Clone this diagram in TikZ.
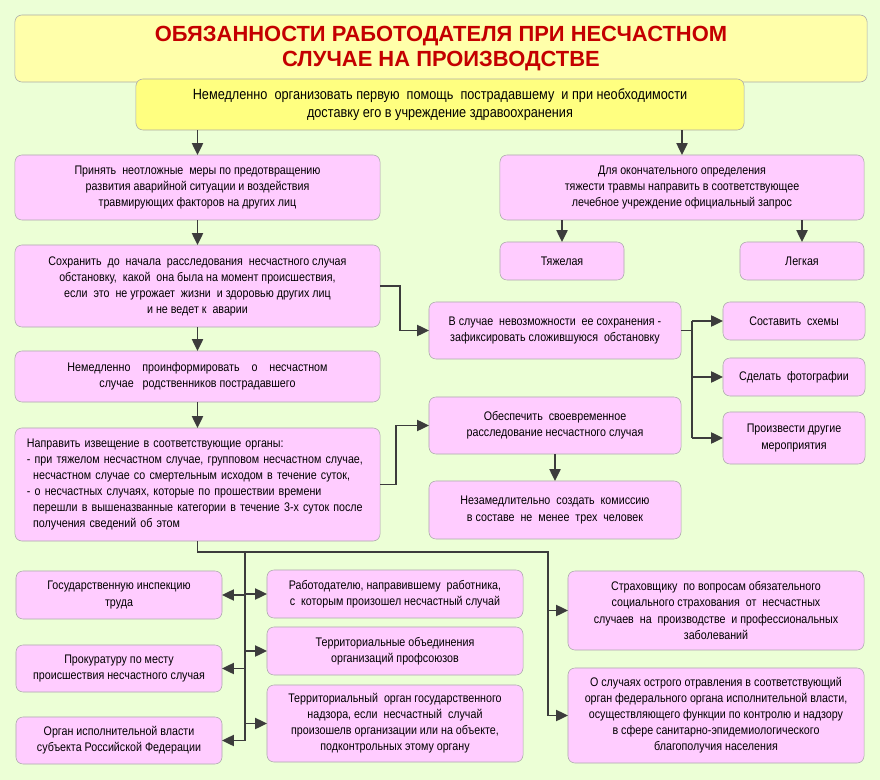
\documentclass[tikz,border=0pt]{standalone}
\usepackage{fontspec}
\setmainfont{Liberation Sans}[FakeStretch=0.86]
\newfontfamily\titlefont{Liberation Sans}
\usetikzlibrary{arrows.meta}
\definecolor{bgreen}{RGB}{236,255,214}
\definecolor{boxpink}{RGB}{255,204,255}
\definecolor{boxline}{RGB}{170,170,170}
\definecolor{titleyel}{RGB}{255,255,170}
\definecolor{subyel}{RGB}{255,255,128}
\definecolor{titlered}{RGB}{196,0,0}
\definecolor{arrgray}{RGB}{60,60,60}

\begin{document}
\begin{tikzpicture}[x=0.025cm,y=-0.025cm,
  every node/.style={inner sep=0pt, outer sep=0pt},
  box/.style={draw=boxline, fill=boxpink, rounded corners=5pt, align=center,
    font=\fontsize{8.85}{11.4}\selectfont},
  line/.style={draw=arrgray, line width=1.1pt},
  arr/.style={line, -{Triangle[length=8.5pt,width=8pt]}}]

\fill[bgreen] (0,0) rectangle (880,780);

% header
\node[draw=boxline, fill=titleyel, rounded corners=5pt, minimum width=21.3cm, minimum height=1.675cm,
  align=center, text=titlered, font=\titlefont\fontsize{15.6}{17.2}\selectfont\bfseries] (title) at (441,48.5)
  {ОБЯЗАННОСТИ РАБОТОДАТЕЛЯ ПРИ НЕСЧАСТНОМ\\СЛУЧАЕ НА ПРОИЗВОДСТВЕ};
\node[box, fill=subyel, minimum width=15.2cm, minimum height=1.275cm,
  font=\fontsize{10.5}{12.8}\selectfont] (sub) at (440,104.5)
  {Немедленно~ организовать первую~ помощь~ пострадавшему~ и при необходимости\\доставку его в учреждение здравоохранения};

% left column
\node[box, minimum width=9.125cm, minimum height=1.625cm] (A1) at (197.5,187.5)
  {Принять~ неотложные~ меры по предотвращению\\развития аварийной ситуации и воздействия\\травмирующих факторов на других лиц};
\node[box, minimum width=9.125cm, minimum height=2.05cm] (A2) at (197.5,286)
  {Сохранить~ до~ начала~ расследования~ несчастного случая\\обстановку,~ какой~ она была на момент происшествия,\\если~ это~ не угрожает~ жизни~ и здоровью других лиц\\и не ведет к~ аварии};
\node[box, minimum width=9.125cm, minimum height=1.275cm] (A3) at (197.5,376.5)
  {Немедленно~~~ проинформировать~~~ о~~~ несчастном\\случае~~ родственников пострадавшего};
\node[box, align=left, text width=8.525cm, inner xsep=0.3cm, minimum height=2.825cm] (A4) at (197.5,484.5)
  {Направить извещение в соответствующие органы:\\
   - при тяжелом несчастном случае, групповом несчастном случае,\\
   \hspace*{0.5em}несчастном случае со смертельным исходом в течение суток,\\
   - о несчастных случаях, которые по прошествии времени\\
   \hspace*{0.5em}перешли в вышеназванные категории в течение 3-х суток после\\
   \hspace*{0.5em}получения сведений об этом};

% right top
\node[box, minimum width=9.1cm, minimum height=1.625cm] (B1) at (682,187.5)
  {Для окончательного определения\\тяжести травмы направить в соответствующее\\лечебное учреждение официальный запрос};
\node[box, minimum width=3.1cm, minimum height=0.95cm] (B2) at (562,261) {Тяжелая};
\node[box, minimum width=3.1cm, minimum height=0.95cm] (B3) at (802,261) {Легкая};

% middle
\node[box, minimum width=6.3cm, minimum height=1.425cm] (C1) at (555,330.5)
  {В случае~ невозможности~ ее сохранения -\\зафиксировать сложившуюся~ обстановку};
\node[box, minimum width=6.3cm, minimum height=1.425cm] (C2) at (555,425.5)
  {Обеспечить~ своевременное\\расследование несчастного случая};
\node[box, minimum width=6.3cm, minimum height=1.45cm] (C3) at (555,510)
  {Незамедлительно~ создать~ комиссию\\в составе~ не~ менее~ трех~ человек};
\node[box, minimum width=3.55cm, minimum height=0.95cm] (D1) at (794,321) {Составить~ схемы};
\node[box, minimum width=3.55cm, minimum height=0.95cm] (D2) at (794,377) {Сделать~ фотографии};
\node[box, minimum width=3.55cm, minimum height=1.3cm] (D3) at (794,438) {Произвести другие\\мероприятия};

% bottom
\node[box, minimum width=5.15cm, minimum height=1.2cm] (E1) at (119,595)
  {Государственную инспекцию\\труда};
\node[box, minimum width=5.15cm, minimum height=1.175cm] (E2) at (119,668.5)
  {Прокуратуру по месту\\происшествия несчастного случая};
\node[box, minimum width=5.15cm, minimum height=1.175cm] (E3) at (119,740.5)
  {Орган исполнительной власти\\субъекта Российской Федерации};
\node[box, minimum width=6.4cm, minimum height=1.2cm] (F1) at (395,594)
  {Работодателю, направившему~ работника,\\с~ которым произошел несчастный случай};
\node[box, minimum width=6.4cm, minimum height=1.2cm] (F2) at (395,651)
  {Территориальные объединения\\организаций профсоюзов};
\node[box, minimum width=6.4cm, minimum height=1.925cm] (F3) at (395,723.5)
  {Территориальный~ орган государственного\\надзора, если~ несчастный~ случай\\произошелв организации или на объекте,\\подконтрольных этому органу};
\node[box, minimum width=7.4cm, minimum height=1.975cm] (G1) at (716,610.5)
  {Страховщику~ по вопросам обязательного\\социального страхования~ от~ несчастных\\случаев~ на~ производстве~ и профессиональных\\заболеваний};
\node[box, minimum width=7.4cm, minimum height=2.375cm] (G2) at (716,715.5)
  {О случаях острого отравления в соответствующий\\орган федерального органа исполнительной власти,\\осуществляющего функции по контролю и надзору\\в сфере санитарно-эпидемиологического\\благополучия населения};

% connectors
\draw[arr] (A1.north |- sub.south) -- (A1.north);
\draw[arr] (B1.north |- sub.south) -- (B1.north);
\draw[arr] (A1) -- (A2);
\draw[arr] (A2) -- (A3);
\draw[arr] (A3) -- (A4);
\draw[arr] (B2.north |- B1.south) -- (B2.north);
\draw[arr] (B3.north |- B1.south) -- (B3.north);
\draw[arr] (A2.east) -- ++(20,0) |- (C1.west);
\draw[arr] (A4.east) -- ++(16,0) |- (C2.west);
\draw[arr] (C2) -- (C3);

\draw[line] (C1.east) -- ++(11,0) coordinate (sp);
\draw[line] (sp |- D1.west) -- (sp |- D3.west);
\draw[arr] (sp |- D1.west) -- (D1.west);
\draw[arr] (sp |- D2.west) -- (D2.west);
\draw[arr] (sp |- D3.west) -- (D3.west);

\coordinate (bx) at (245,552);
\coordinate (gx) at (548,552);
\draw[line] (A4.south) |- (gx) -- (gx |- G2.west);
\draw[arr] (gx |- G1.west) -- (G1.west);
\draw[arr] (gx |- G2.west) -- (G2.west);
\draw[line] (bx) -- (bx |- E3.east);
\draw[arr] (bx |- E1.east) -- (E1.east);
\draw[arr] (bx |- E2.east) -- (E2.east);
\draw[arr] (bx |- E3.east) -- (E3.east);
\draw[arr] (bx |- F1.west) -- (F1.west);
\draw[arr] (bx |- F2.west) -- (F2.west);
\draw[arr] (bx |- F3.west) -- (F3.west);
\end{tikzpicture}
\end{document}
